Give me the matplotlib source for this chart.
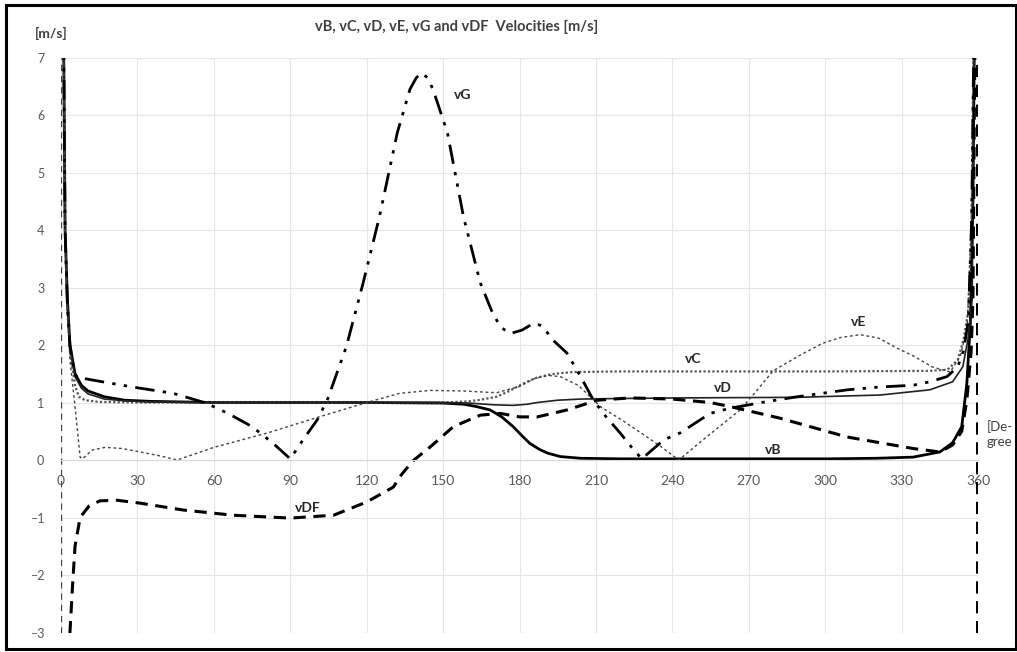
import matplotlib
matplotlib.use("Agg")
import matplotlib.pyplot as plt
from matplotlib.patches import Rectangle

plt.rcParams["font.family"] = ["Lato", "DejaVu Sans"]

# -----------------------------------------------------------------------------
# Data (crank angle in degrees, velocity in m/s)
# -----------------------------------------------------------------------------
vB_x = [1.0, 1.6, 2.5, 3.5, 5.5, 8, 10.6, 17, 25, 35, 60, 90, 120, 150, 158, 163,
        168.5, 173, 177.5, 181, 184, 188, 191, 196, 204, 220, 260, 300, 320, 334.5,
        345, 350, 353.6, 355.6, 357, 358, 358.6]
vB_y = [7.5, 4.0, 2.8, 2.0, 1.5, 1.3, 1.2, 1.1, 1.04, 1.02, 1.0, 1.0, 1.0, 0.99, 0.97, 0.93,
        0.87, 0.75, 0.58, 0.42, 0.29, 0.18, 0.12, 0.06, 0.03, 0.02, 0.02, 0.02, 0.03, 0.05,
        0.14, 0.3, 0.58, 1.33, 2.4, 4.5, 7.5]

vC_x = [1.0, 1.6, 2.5, 3.5, 5.5, 7, 9.4, 15, 30, 90, 150, 160, 165, 171, 176, 181.5, 186,
        191, 196, 201, 220, 260, 300, 341, 348, 352, 354.3, 356.2, 357.5, 358.3]
vC_y = [7.5, 4.0, 2.6, 1.9, 1.3, 1.1, 1.04, 1.01, 1.0, 1.0, 1.0, 1.02, 1.05, 1.1, 1.2, 1.33, 1.42,
        1.48, 1.51, 1.53, 1.54, 1.54, 1.54, 1.55, 1.57, 1.74, 2.09, 2.6, 4.2, 7.5]

vD_x = [1.0, 1.6, 2.5, 3.5, 5.5, 8, 10.6, 17, 25, 35, 60, 90, 120, 150, 160, 170, 177.5,
        183, 187, 195, 204, 220, 243, 289, 321.5, 341, 350, 354, 356, 357.7, 358.5]
vD_y = [7.5, 4.0, 2.7, 1.95, 1.45, 1.25, 1.15, 1.06, 1.03, 1.01, 1.0, 1.0, 1.0, 1.0, 0.99, 0.96, 0.95,
        0.97, 1.0, 1.04, 1.06, 1.07, 1.08, 1.09, 1.13, 1.22, 1.36, 1.62, 2.09, 2.8, 7.5]

vE_x = [1.0, 1.6, 2.5, 3.5, 5.5, 7.5, 8.3, 10, 12, 17.3, 24, 31, 38, 45.6, 60, 81, 100.6,
        120, 133, 145, 158, 171, 180, 186, 191.5, 196, 203, 212, 220, 227.7, 235, 242.5,
        252, 259, 266.6, 273, 279.5, 290, 299, 306, 313.7, 321, 328, 335, 342, 349, 353,
        355.7, 357.3, 358.3]
vE_y = [7.5, 4.0, 2.6, 1.74, 0.93, 0.05, 0.02, 0.08, 0.17, 0.22, 0.2, 0.14, 0.08, 0.0, 0.22, 0.47, 0.74,
        1.0, 1.16, 1.21, 1.2, 1.17, 1.28, 1.42, 1.47, 1.45, 1.3, 0.92, 0.7, 0.47, 0.25, 0.0,
        0.35, 0.6, 0.87, 1.2, 1.55, 1.82, 2.03, 2.13, 2.18, 2.12, 1.95, 1.8, 1.62, 1.53, 1.8,
        2.3, 4.0, 7.5]

vG_x = [1.0, 1.6, 2.5, 3.5, 5, 6.2, 15, 28, 44, 57, 66, 75, 83, 90, 95, 100.6, 104.5, 112,
        118.6, 125, 132, 137, 139.5, 141.7, 143.8, 146, 151.7, 158, 164.6, 169, 172.5, 176.5,
        181, 185.6, 189, 193, 198.6, 204, 209, 214, 219.5, 224, 228, 236.6, 243, 254.8, 262.6,
        275, 289, 308.6, 321.5, 334.5, 341, 347.8, 352, 354.3, 356.2, 357.5, 358.4]
vG_y = [7.5, 4.0, 2.7, 2.0, 1.55, 1.44, 1.37, 1.27, 1.16, 0.99, 0.8, 0.58, 0.3, 0.02, 0.35, 0.7, 1.04, 1.97,
        3.08, 4.23, 5.69, 6.45, 6.65, 6.73, 6.65, 6.45, 5.69, 4.23, 3.08, 2.6, 2.31, 2.2,
        2.26, 2.38, 2.33, 2.09, 1.86, 1.45, 1.04, 0.75, 0.47, 0.22, 0.02, 0.35, 0.47, 0.81, 0.9,
        1.0, 1.1, 1.22, 1.27, 1.3, 1.36, 1.45, 1.62, 1.9, 2.43, 4.2, 7.5]

vDF_x = [2.5, 3.5, 4.5, 5.5, 7.5, 8.7, 11, 15.3, 22, 31, 48, 67.5, 90, 107, 120, 130.5, 133,
         138, 145, 154, 164.6, 172.5, 180, 187, 198.6, 210.5, 223.5, 240, 254.8, 262.6, 282,
         308.6, 334.5, 345, 350, 353.6, 355.6, 357.3, 358, 358.8, 359.8, 359.8]
vDF_y = [-3.5, -3.0, -2.2, -1.5, -1.0, -0.93, -0.8, -0.71, -0.7, -0.75, -0.87, -0.96, -1.01, -0.96, -0.73, -0.47, -0.29,
         -0.02, 0.23, 0.58, 0.78, 0.81, 0.75, 0.75, 0.87, 1.04, 1.08, 1.06, 1.0, 0.93, 0.73,
         0.4, 0.2, 0.14, 0.26, 0.5, 1.04, 1.9, 2.8, 7.5, 7.6, -3.5]

x_ticks = list(range(0, 361, 30))
y_ticks = list(range(-3, 8))

# curve name labels: (text, x, y)
curve_labels = [("vG", 157.5, 6.35), ("vC", 248, 1.75), ("vD", 260, 1.25),
                ("vE", 313, 2.4), ("vB", 279.6, 0.17), ("vDF", 97, -0.83)]

# -----------------------------------------------------------------------------
# Plot
# -----------------------------------------------------------------------------
fig = plt.figure(figsize=(10.17, 6.52), dpi=100)
ax = fig.add_axes([0.06, 0.0299, 0.9017, 0.8819])
ax.set_xlim(0, 360)
ax.set_ylim(-3, 7)

ax.set_xticks(x_ticks)
ax.set_yticks(y_ticks)
ax.grid(True, color="#e6e6e6", lw=0.8)
ax.set_axisbelow(True)

for s in ("top", "right", "left"):
    ax.spines[s].set_visible(False)
ax.spines["bottom"].set_position(("data", 0))
ax.spines["bottom"].set_color("#d9d9d9")
ax.tick_params(axis="x", length=0, pad=11, labelsize=10, labelcolor="#595959")
ax.tick_params(axis="y", length=0, pad=12, labelsize=9, labelcolor="#595959")

# y axis drawn as a thin dashed line
ax.axvline(0, color="#404040", lw=0.9, ls=(0, (5, 4)))

ax.plot(vB_x, vB_y, color="black", lw=2.0)
ax.plot(vC_x, vC_y, color="#555555", lw=1.6, ls=(0, (1, 1)))
ax.plot(vD_x, vD_y, color="#222222", lw=1.2)
ax.plot(vE_x, vE_y, color="#444444", lw=1.0, ls=(0, (2, 2)))
ax.plot(vG_x, vG_y, color="black", lw=2.0, ls=(0, (7, 3, 1.2, 3, 1.2, 3)))
ax.plot(vDF_x, vDF_y, color="black", lw=2.2, ls=(0, (4, 2.5)))

for txt, tx, ty in curve_labels:
    ax.text(tx, ty, txt, fontsize=10, fontweight="bold", color="#262626",
            ha="center", va="center")

fig.text(0.449, 0.958, "vB, vC, vD, vE, vG and vDF  Velocities [m/s]",
         fontsize=10.5, fontweight="bold", color="#404040", ha="center", va="center")
fig.text(0.050, 0.948, "[m/s]", fontsize=10, fontweight="bold", color="#404040",
         ha="center", va="center")
fig.text(0.970, 0.335, "[De-\ngree", fontsize=9.5, color="#404040",
         ha="left", va="center", linespacing=1.3)

# outer frame
fig.patches.append(Rectangle((0.006, 0.004), 0.993, 0.988, transform=fig.transFigure,
                             fill=False, edgecolor="black", lw=2.2))

fig.savefig("out.png", dpi=100)
